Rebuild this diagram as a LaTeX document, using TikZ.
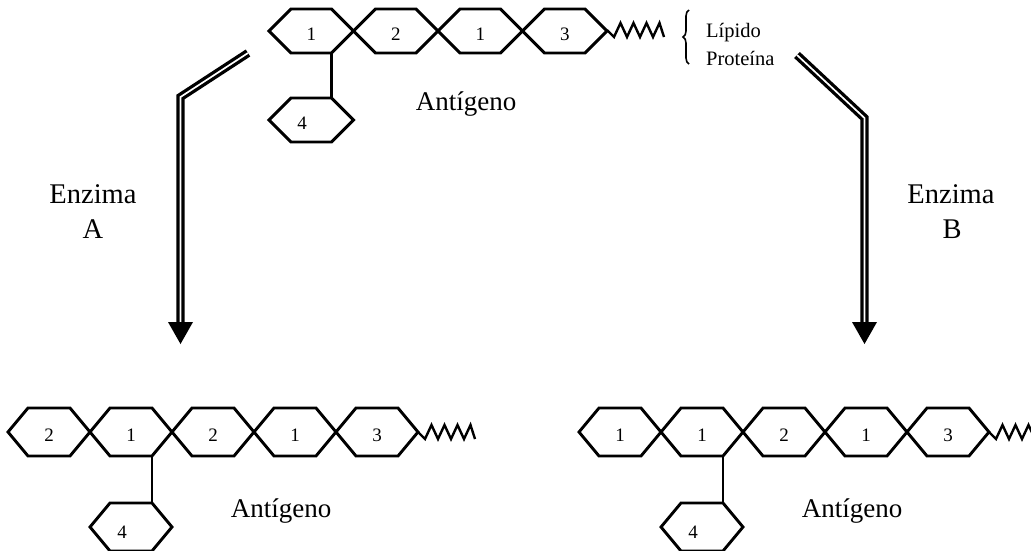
\documentclass[tikz,border=0pt]{standalone}
\usepackage{fontspec}
\setmainfont{Liberation Serif}
\usetikzlibrary{decorations.pathreplacing}

\tikzset{
  x=1pt, y=-1pt,
  hexline/.style={line width=2.9pt, line join=miter},
  stemline/.style={line width=2.9pt},
  springline/.style={line width=2.4pt, line join=miter},
  dbl/.style={line width=3.3pt, double=white, double distance=1.7pt, line join=miter},
  digit/.style={font=\fontsize{19}{19}\selectfont, anchor=base, inner sep=0pt},
  lbl/.style={font=\fontsize{27}{27}\selectfont, anchor=base, inner sep=0pt},
  enz/.style={font=\fontsize{28.5}{28.5}\selectfont, anchor=base, inner sep=0pt},
  small/.style={font=\fontsize{20.5}{20.5}\selectfont, anchor=base west, inner sep=0pt},
  % sugar ring: #1 half width, #2 half height, #3 slant inset
  pics/hexa/.style n args={3}{code={
    \draw[hexline] (-#1,0) -- (-#1+#3,-#2) -- (#1-#3,-#2) -- (#1,0)
      -- (#1-#3,#2) -- (-#1+#3,#2) -- cycle;
  }},
  % lipid / protein tail
  pics/spring/.style={code={
    \draw[springline] (0,0) -- (7,7) -- (13.5,-7) -- (20,7) -- (26.5,-7)
      -- (33,7) -- (39.5,-7) -- (46,7) -- (52.5,-7) -- (57,7);
  }}
}

\begin{document}
\begin{tikzpicture}
\useasboundingbox (0,0) rectangle (1031,550);
\clip (0,0) rectangle (1031,550);

% ---------- original antigen (top) ----------
\foreach \cx/\t [count=\i] in {311.25/1, 395.75/2, 480.25/1, 564.75/3}{
  \pic at (\cx,31) {hexa={42.25}{22}{22}};
  \node[digit] (t\i) at (\cx,40) {\t};
}
\pic at (607,30) {spring};
\pic at (311.25,120) {hexa={42.25}{22}{22}};
\node[digit] (t4) at (302,129) {4};
\draw[stemline] (331.5,53) -- (331.5,98);
\node[lbl] (agT) at (466,110) {Antígeno};

\draw[line width=1.6pt, decorate, decoration={brace, amplitude=6pt}] (689,64) -- (689,10);
\node[small] (lip) at (706,37) {Lípido};
\node[small] (prot) at (706,65) {Proteína};

% ---------- product of enzyme A (bottom left) ----------
\foreach \cx/\t [count=\i] in {49/2, 131/1, 213/2, 295/1, 377/3}{
  \pic at (\cx,432) {hexa={41}{24}{20}};
  \node[digit] (a\i) at (\cx,441) {\t};
}
\pic at (418,432) {spring};
\pic at (131,527) {hexa={41}{24}{20}};
\node[digit] (a6) at (122,538) {4};
\draw[stemline] (152,456) -- (152,503);
\node[lbl] (agA) at (281,517) {Antígeno};

% ---------- product of enzyme B (bottom right) ----------
\foreach \cx/\t [count=\i] in {620/1, 702/1, 784/2, 866/1, 948/3}{
  \pic at (\cx,432) {hexa={41}{24}{20}};
  \node[digit] (b\i) at (\cx,441) {\t};
}
\pic at (989,432) {spring};
\pic at (702,527) {hexa={41}{24}{20}};
\node[digit] (b6) at (693,538) {4};
\draw[stemline] (723,456) -- (723,503);
\node[lbl] (agB) at (852,517) {Antígeno};

% ---------- reaction arrows ----------
\coordinate (As) at (248,53);
\coordinate (Ab) at (180.5,97);
\coordinate (Ae) at (180.5,322);
\coordinate (Bs) at (797,55);
\coordinate (Bb) at (864.5,118);
\coordinate (Be) at (864.5,322);

\draw[dbl] (As) -- (Ab) -- (Ae);
\fill ([xshift=-12.5pt]Ae) -- ([xshift=12.5pt]Ae) -- ([yshift=-22pt]Ae) -- cycle;
\draw[dbl] (Bs) -- (Bb) -- (Be);
\fill ([xshift=-12.5pt]Be) -- ([xshift=12.5pt]Be) -- ([yshift=-22pt]Be) -- cycle;

\node[enz] (enzA) at (93,203) {Enzima};
\node[enz] (lA) at (93,238) {A};
\node[enz] (enzB) at (951,203) {Enzima};
\node[enz] (lB) at (952,238) {B};
\end{tikzpicture}
\end{document}
